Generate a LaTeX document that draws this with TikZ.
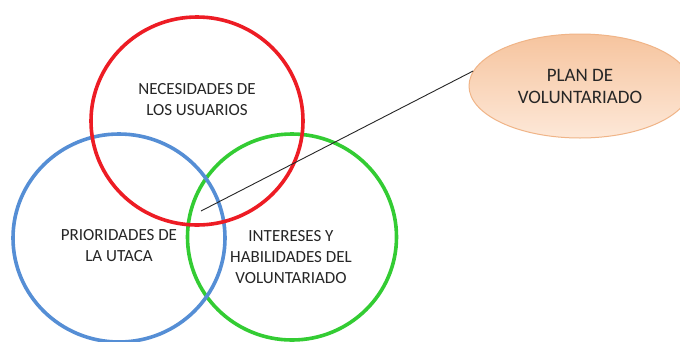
\documentclass[tikz,border=0pt]{standalone}
\usepackage{fontspec}
\setmainfont{Carlito}
\usetikzlibrary{shapes.geometric}
\definecolor{cred}{RGB}{237,28,36}
\definecolor{cblue}{RGB}{85,142,213}
\definecolor{cgreen}{RGB}{51,204,51}
\definecolor{peachrim}{RGB}{240,180,135}
\definecolor{peachtop}{RGB}{246,196,158}
\definecolor{peachbot}{RGB}{253,232,216}
\tikzset{
  ring/.style={ellipse, line width=3.6pt, draw, inner sep=0pt},
  lbl/.style={font=\fontsize{17}{21}\selectfont, align=center, text=black!85},
  plan/.style={ellipse, draw=peachrim, line width=1pt, top color=peachtop, bottom color=peachbot,
     minimum width=222pt, minimum height=104pt, font=\fontsize{19}{22}\selectfont, align=center, text=black!85},
}
\begin{document}
\begin{tikzpicture}[x=1pt,y=-1pt]
\useasboundingbox[fill=white] (0,0) rectangle (680,341);
\node[ring, draw=cgreen, minimum width=209pt, minimum height=206pt] (green) at (292,237) {};
\node[ring, draw=cblue, minimum width=212pt, minimum height=208pt] (blue) at (119,238) {};
\node[ring, draw=cred, minimum width=212pt, minimum height=208pt] (red) at (197,121) {};
\node[plan] (planv) at (580,86) {PLAN DE\\VOLUNTARIADO};
\coordinate (p) at (201,211);
\draw[black!85, line width=0.9pt] (p) -- (planv.172);
\node[lbl] (nec) at (197,100) {NECESIDADES DE\\LOS USUARIOS};
\node[lbl] (pri) at (119,246) {PRIORIDADES DE\\LA UTACA};
\node[lbl] (int) at (291,257) {INTERESES Y\\HABILIDADES DEL\\VOLUNTARIADO};
\end{tikzpicture}
\end{document}
